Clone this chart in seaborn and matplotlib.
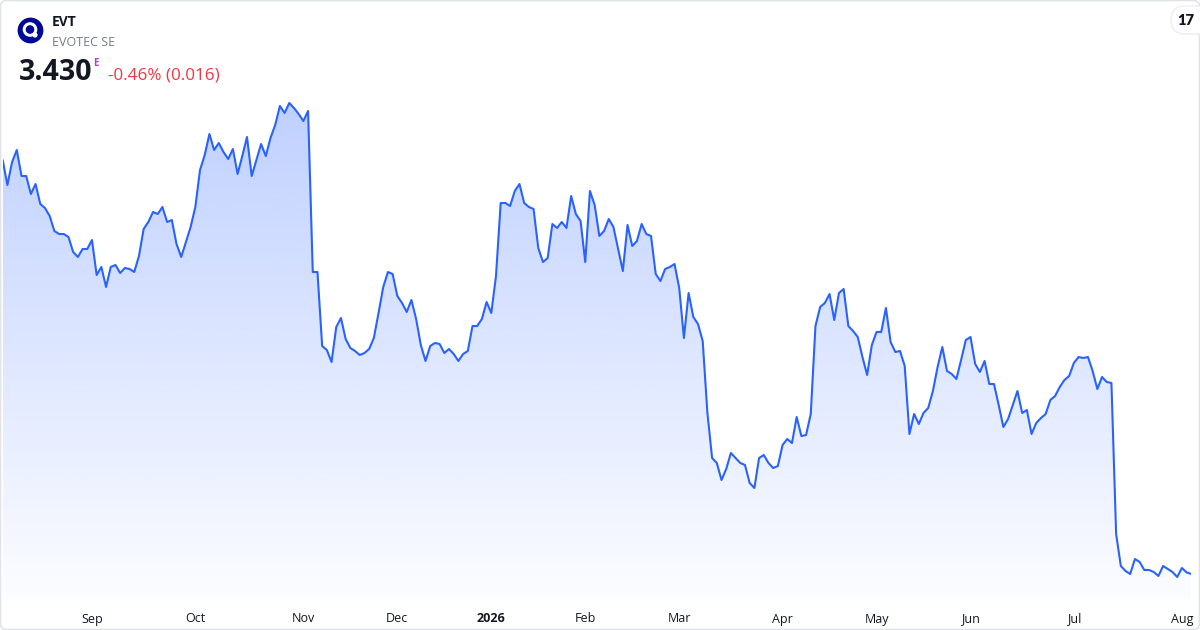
import numpy as np
import pandas as pd
import matplotlib
matplotlib.use("Agg")
import matplotlib.pyplot as plt
import seaborn as sns
from matplotlib.patches import FancyBboxPatch, Circle

# ---------------- data ----------------
prices = [
    7.57, 7.32, 7.55, 7.67, 7.41, 7.41, 7.23, 7.33, 7.13, 7.09,
    7.01, 6.86, 6.83, 6.83, 6.80, 6.65, 6.60, 6.68, 6.68, 6.77,
    6.42, 6.50, 6.30, 6.50, 6.52, 6.44, 6.49, 6.48, 6.45, 6.61,
    6.88, 6.95, 7.05, 7.03, 7.10, 6.95, 6.97, 6.73, 6.60, 6.75,
    6.90, 7.10, 7.47, 7.62, 7.83, 7.67, 7.74, 7.65, 7.58, 7.68,
    7.43, 7.61, 7.80, 7.41, 7.57, 7.73, 7.61, 7.79, 7.92, 8.11,
    8.04, 8.14, 8.09, 8.03, 7.96, 8.06, 6.45, 6.45,
    5.71, 5.67, 5.55, 5.90, 5.99, 5.78, 5.69, 5.66, 5.62, 5.64,
    5.68, 5.79, 6.04, 6.30, 6.45, 6.43, 6.21, 6.14, 6.05, 6.17,
    5.98, 5.72, 5.56, 5.71, 5.74, 5.73, 5.64, 5.68, 5.63, 5.56,
    5.63, 5.66, 5.91, 5.91, 5.98, 6.15, 6.04, 6.41, 7.14, 7.14,
    7.11, 7.26, 7.33, 7.14, 7.10, 7.08, 6.69, 6.55, 6.59, 6.93,
    6.89, 6.95, 6.89, 7.21, 7.03, 6.96, 6.55, 7.26, 7.12, 6.81,
    6.86, 6.98, 6.90, 6.68, 6.46, 6.92, 6.71, 6.76, 6.93, 6.83,
    6.81, 6.43, 6.36, 6.48, 6.50, 6.53, 6.29, 5.79, 6.24, 6.00,
    5.93,
    5.76, 5.04, 4.59, 4.54, 4.37, 4.48, 4.64, 4.59, 4.54, 4.52,
    4.34, 4.29, 4.59, 4.62, 4.54, 4.49, 4.51, 4.72, 4.78, 4.74,
    5.00, 4.81, 4.82, 5.03, 5.91, 6.10, 6.14, 6.23, 5.97, 6.24,
    6.28, 5.91, 5.86, 5.80,
    5.60, 5.42, 5.72, 5.85, 5.85, 6.09, 5.75, 5.65, 5.66, 5.51,
    4.83, 5.03, 4.93, 5.04, 5.09, 5.26, 5.50, 5.70, 5.46, 5.43,
    5.38, 5.57, 5.77, 5.80, 5.53, 5.45, 5.56, 5.33, 5.33, 5.12,
    4.90, 4.98, 5.12, 5.26,
    5.04, 5.07, 4.83, 4.94, 4.99, 5.03, 5.17, 5.21, 5.30, 5.37,
    5.41, 5.54, 5.60, 5.59, 5.60, 5.46, 5.28, 5.40, 5.35, 5.34,
    3.83, 3.51, 3.46, 3.43, 3.58, 3.55, 3.47, 3.47, 3.45, 3.41,
    3.51, 3.48, 3.45, 3.40, 3.49, 3.446, 3.430,
]
day_index = list(range(len(prices)))

month_labels = ["Sep", "Oct", "Nov", "Dec", "2026", "Feb", "Mar", "Apr",
                "May", "Jun", "Jul", "Aug"]
month_start_index = [19, 41, 64, 84, 104, 124, 144, 166, 186, 206, 228, 251]

symbol = "EVT"
company = "EVOTEC SE"
last_price = "3.430"
change_text = "-0.46% (0.016)"

df = pd.DataFrame({"day": day_index, "price": prices})

# ---------------- style ----------------
sns.set_theme(style="white")
plt.rcParams["font.family"] = ["Open Sans", "DejaVu Sans"]

LINE = "#2962ff"
W, H = 1200, 630
fig = plt.figure(figsize=(W / 100, H / 100), dpi=100)
fig.patch.set_facecolor("white")

# plot axes placed in pixel terms
left_px, right_px, top_px, bottom_px = 2.7, 1191.3, 90, 600
ax = fig.add_axes([left_px / W, (H - bottom_px) / H,
                   (right_px - left_px) / W, (bottom_px - top_px) / H])
ax.set_facecolor("none")

ymin, ymax = 3.17, 8.27
xmax = len(prices) - 1
ax.set_xlim(0, xmax)
ax.set_ylim(ymin, ymax)

# gradient fill under the line
poly = ax.fill_between(df["day"], df["price"], ymin, color="none", lw=0)
n = 256
alpha = np.linspace(0.015, 0.30, n)
grad = np.zeros((n, 1, 4))
grad[:, 0, 0] = 41 / 255
grad[:, 0, 1] = 98 / 255
grad[:, 0, 2] = 1.0
grad[:, 0, 3] = alpha
im = ax.imshow(grad, extent=[0, xmax, ymin, 8.17], origin="lower",
               aspect="auto", interpolation="bilinear", zorder=1)
im.set_clip_path(poly.get_paths()[0], transform=ax.transData)
ax.set_xlim(0, xmax)
ax.set_ylim(ymin, ymax)

sns.lineplot(data=df, x="day", y="price", ax=ax, color=LINE, linewidth=1.5,
             zorder=3)
ax.set_xlabel("")
ax.set_ylabel("")
ax.set_yticks([])
ax.set_xticks(month_start_index)
ax.set_xticklabels(month_labels, fontsize=9, color="#131722")
for lab in ax.get_xticklabels():
    if lab.get_text() == "2026":
        lab.set_fontweight("bold")
ax.tick_params(axis="x", length=0, pad=9)
for s in ax.spines.values():
    s.set_visible(False)

# ---------------- overlay (header, border, logo) ----------------
ov = fig.add_axes([0, 0, 1, 1], zorder=5)
ov.set_xlim(0, W)
ov.set_ylim(H, 0)
ov.axis("off")
ov.patch.set_alpha(0)

border = FancyBboxPatch((0.5, 0.5), W - 1, H - 1,
                        boxstyle="round,pad=0,rounding_size=6",
                        fc="none", ec="#e0e3eb", lw=1.2)
ov.add_patch(border)

# company logo
ov.add_patch(Circle((30.5, 30.5), 12.2, color="#000a96"))
ov.add_patch(Circle((30.0, 29.5), 6.6, color="white"))
ov.add_patch(Circle((30.0, 29.5), 3.6, color="#000a96"))
ov.add_patch(Circle((35.0, 35.0), 1.9, color="white"))

ov.text(52, 26, symbol, fontsize=10, fontweight="bold", color="#131722",
        va="baseline", ha="left")
ov.text(52, 45.5, company, fontsize=9, color="#787b86",
        va="baseline", ha="left")
ov.text(18.5, 80.5, last_price, fontsize=20.5, fontweight="bold",
        color="#131722", va="baseline", ha="left")
ov.text(93.5, 66, "E", fontsize=7, fontweight="bold", color="#ab47bc",
        va="baseline", ha="left")
ov.text(108, 80, change_text, fontsize=12.3, color="#f23645",
        va="baseline", ha="left")

# TradingView badge
badge = FancyBboxPatch((1171, 6), 40, 28,
                       boxstyle="round,pad=0,rounding_size=14",
                       fc="white", ec="#eceef2", lw=1.0)
ov.add_patch(badge)
ov.text(1186, 20.5, "17", fontsize=10.5, fontweight="heavy", color="#131722",
        family=["Lato", "DejaVu Sans"], va="center", ha="center")

fig.savefig("out.png", dpi=100, facecolor="white")
